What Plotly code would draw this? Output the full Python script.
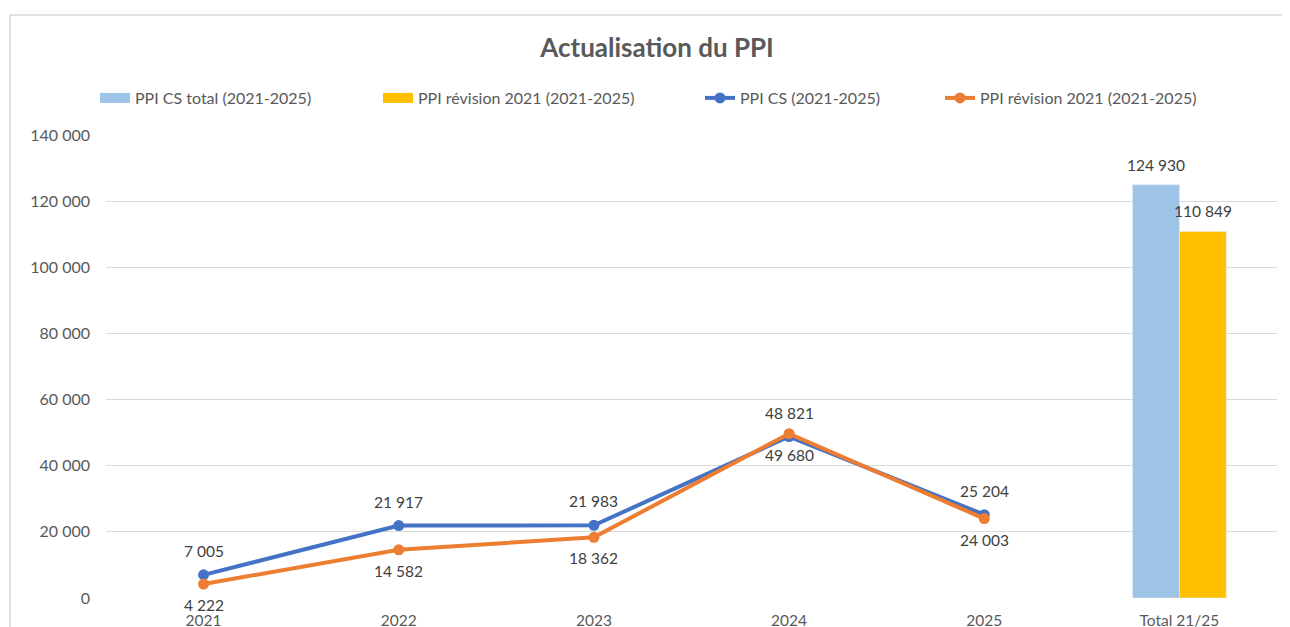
import plotly.graph_objects as go

categories = ["2021", "2022", "2023", "2024", "2025", "Total 21/25"]
years = ["2021", "2022", "2023", "2024", "2025"]
ppi_cs = [7005, 21917, 21983, 48821, 25204]
ppi_revision = [4222, 14582, 18362, 49680, 24003]
total_label = ["Total 21/25"]
total_cs = [124930]
total_revision = [110849]
yticks = [0, 20000, 40000, 60000, 80000, 100000, 120000, 140000]

FONT = "Lato"
TXT = "#404040"
AX = "#595959"
C_BAR1, C_BAR2, C_L1, C_L2 = "#9DC3E6", "#FFC000", "#4472C4", "#ED7D31"

W, H = 1290, 627
OFF = 8  # page body margin offset
# desired plot area in screen pixels
sx0, sx1, sy0, sy1 = 106, 1277, 135, 598
ml = sx0 - OFF
mr = W - (sx1 - OFF)
mt = sy0 - OFF
mb = H - (sy1 - OFF)
pw, ph = W - ml - mr, H - mt - mb

def fmt(v):
    return f"{v:,}".replace(",", " ")

def px_x(sx):  # screen x -> paper x
    return (sx - OFF - ml) / pw

def px_y(sy):  # screen y -> paper y
    return 1 - (sy - OFF - mt) / ph

fig = go.Figure()
fig.add_trace(go.Bar(x=total_label, y=total_cs, name="PPI CS total (2021-2025)",
                     marker_color=C_BAR1, showlegend=False))
fig.add_trace(go.Bar(x=total_label, y=total_revision, name="PPI révision 2021 (2021-2025)",
                     marker_color=C_BAR2, showlegend=False))
fig.add_trace(go.Scatter(x=years, y=ppi_cs, name="PPI CS (2021-2025)", mode="lines+markers",
                         line=dict(color=C_L1, width=4), marker=dict(size=11, color=C_L1),
                         legend="legend3", cliponaxis=False))
fig.add_trace(go.Scatter(x=years, y=ppi_revision, name="PPI révision 2021 (2021-2025)",
                         mode="lines+markers", line=dict(color=C_L2, width=4),
                         marker=dict(size=11, color=C_L2), legend="legend4", cliponaxis=False))
# legend proxies for the bar series (wide rectangle swatches)
fig.add_trace(go.Scatter(x=[None], y=[None], mode="lines", name="PPI CS total (2021-2025)",
                         line=dict(color=C_BAR1, width=10), legend="legend"))
fig.add_trace(go.Scatter(x=[None], y=[None], mode="lines", name="PPI révision 2021 (2021-2025)",
                         line=dict(color=C_BAR2, width=10), legend="legend2"))

lab_font = dict(size=15.5, color=TXT, family=FONT)
for x, y in zip(years, ppi_cs):
    fig.add_annotation(x=categories.index(x), y=y, text=fmt(y), showarrow=False,
                       yshift=24, font=lab_font)
for x, y in zip(years, ppi_revision):
    fig.add_annotation(x=categories.index(x), y=y, text=fmt(y), showarrow=False,
                       yshift=-21, font=lab_font)
for x, y in zip(total_label, total_cs):
    fig.add_annotation(x=categories.index(x), y=y, text=fmt(y), showarrow=False,
                       yshift=20, xshift=-23, font=lab_font)
for x, y in zip(total_label, total_revision):
    fig.add_annotation(x=categories.index(x), y=y, text=fmt(y), showarrow=False,
                       yshift=20, xshift=24, font=lab_font)

# chart border (extends beyond the visible area)
fig.add_shape(type="rect", xref="paper", yref="paper",
              x0=px_x(10), x1=px_x(W + 30), y0=px_y(H + 30), y1=px_y(15),
              line=dict(color="#D9D9D9", width=1.5), fillcolor="rgba(0,0,0,0)", layer="below")

def leg(sx):
    return dict(orientation="h", x=px_x(sx - 5), xanchor="left", y=px_y(98), yanchor="middle",
                font=dict(size=16, color=AX, family=FONT), bgcolor="rgba(0,0,0,0)")

fig.update_layout(
    width=W, height=H,
    margin=dict(l=ml, r=mr, t=mt, b=mb, autoexpand=False),
    paper_bgcolor="white", plot_bgcolor="white",
    font=dict(family=FONT, color=AX, size=16),
    title=dict(text="<b>Actualisation du PPI</b>", x=(657 - OFF) / W, xanchor="center",
               y=1 - (48 - OFF) / H, yanchor="middle",
               font=dict(size=26, color=AX, family=FONT)),
    legend=leg(100), legend2=leg(383), legend3=leg(705), legend4=leg(945),
    barmode="group", bargap=0.52, bargroupgap=0,
    showlegend=True,
    hovermode=False,
)
fig.update_xaxes(type="category", categoryorder="array", categoryarray=categories,
                 range=[-0.5, 5.5], showgrid=False, showline=False, zeroline=False,
                 ticks="", ticklabelstandoff=11, automargin=False,
                 tickfont=dict(size=15.5, color=AX))
fig.update_yaxes(range=[0, 140000], tickvals=yticks, ticktext=[fmt(v) for v in yticks],
                 showgrid=True, gridcolor="#D9D9D9", gridwidth=1.3, zeroline=False,
                 showline=False, ticks="", ticklabelstandoff=15, automargin=False,
                 tickfont=dict(size=16, color=AX))

fig.write_html("out.html")
